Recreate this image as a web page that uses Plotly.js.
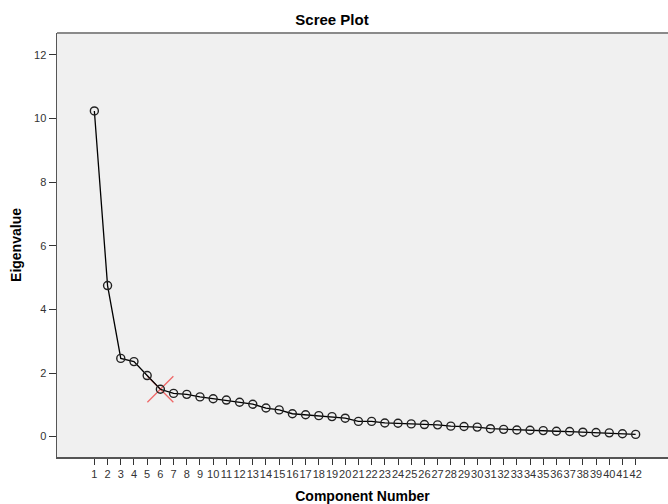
<!DOCTYPE html>
<html>
<head>
<meta charset="utf-8">
<script src="https://cdn.plot.ly/plotly-3.0.1.min.js"></script>
<style>html,body{margin:0;padding:0;background:#fff}#chart{width:668px;height:504px}</style>
</head>
<body>
<div id="chart"></div>
<script>
const components = [1,2,3,4,5,6,7,8,9,10,11,12,13,14,15,16,17,18,19,20,21,22,23,24,25,26,27,28,29,30,31,32,33,34,35,36,37,38,39,40,41,42];
const eigenvalues = [10.24,4.75,2.46,2.36,1.92,1.49,1.36,1.33,1.25,1.19,1.15,1.08,1.02,0.90,0.84,0.72,0.69,0.66,0.63,0.58,0.48,0.48,0.43,0.42,0.40,0.38,0.37,0.33,0.32,0.30,0.25,0.23,0.21,0.20,0.19,0.17,0.16,0.14,0.13,0.12,0.09,0.07];
const markedComponent = [6];
const markedValue = [1.49];
const xTickLabels = components.map(String);
const yTickVals = [0,2,4,6,8,10,12];

const font = 'Arial, "Liberation Sans", sans-serif';

const data = [
  {
    x: markedComponent, y: markedValue, type: 'scatter', mode: 'markers',
    marker: {symbol: 'x-thin-open', size: 26, color: 'rgba(238,80,80,0.85)', line: {color: 'rgba(238,80,80,0.85)', width: 1.3}},
    hoverinfo: 'skip', showlegend: false
  },
  {
    x: components, y: eigenvalues, type: 'scatter', mode: 'lines+markers',
    line: {color: '#000', width: 1.3},
    marker: {symbol: 'circle-open', size: 8, color: '#222', line: {color: '#222', width: 1.4}},
    showlegend: false
  }
];

const layout = {
  width: 668, height: 504,
  margin: {l: 57, r: 0, t: 33, b: 47},
  paper_bgcolor: '#ffffff',
  plot_bgcolor: '#f0f0f0',
  font: {family: font, color: '#333', size: 11},
  title: {text: 'Scree Plot', font: {family: font, size: 15, color: '#000', weight: 'bold'}, x: 0.497, xanchor: 'center', y: 0.96, yanchor: 'middle'},
  xaxis: {
    range: [-1.83, 44.45],
    tickmode: 'array', tickvals: components, ticktext: xTickLabels,
    tickangle: 0,
    ticks: 'outside', ticklen: 6, tickwidth: 1, tickcolor: '#333',
    tickfont: {family: font, size: 11, color: '#333'},
    showgrid: false, zeroline: false,
    showline: true, linecolor: '#555', linewidth: 1.5,
    automargin: false,
    title: {text: 'Component Number', font: {family: font, size: 14, color: '#000', weight: 'bold'}, standoff: 12}
  },
  yaxis: {
    range: [-0.64, 12.69],
    tickmode: 'array', tickvals: yTickVals,
    ticks: 'outside', ticklen: 7, tickwidth: 1, tickcolor: '#333',
    tickfont: {family: font, size: 11, color: '#333'},
    showgrid: false, zeroline: false,
    showline: true, linecolor: '#555', linewidth: 1.5,
    automargin: false,
    title: {text: 'Eigenvalue', font: {family: font, size: 14, color: '#000', weight: 'bold'}, standoff: 9}
  },
  shapes: [
    {type: 'line', xref: 'paper', yref: 'paper', x0: 0, x1: 1, y0: 1, y1: 1, line: {color: '#8a8a8a', width: 2}}
  ]
};

Plotly.newPlot('chart', data, layout, {displayModeBar: false, staticPlot: true});
</script>
</body>
</html>
